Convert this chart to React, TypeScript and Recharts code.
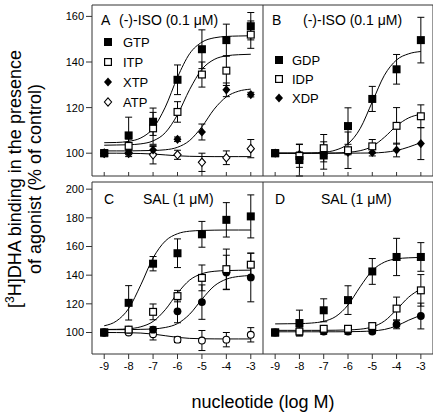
import React from 'react';
import { ComposedChart, Scatter, Line, XAxis, YAxis, ErrorBar, ReferenceArea } from 'recharts';

const FONT = '"Liberation Sans", Arial, Helvetica, sans-serif';

// ---------- shared ----------
const logDose = [-9, -8, -7, -6, -5, -4, -3];
const fitX = [-9, -8.5, -8, -7.5, -7, -6.5, -6, -5.5, -5, -4.5, -4, -3.5, -3];
const xTicks = [-9, -8, -7, -6, -5, -4, -3];
const yTicksTop = [100, 120, 140, 160];
const yTicksBottom = [100, 120, 140, 160, 180, 200];

// ---------- Panel A : (-)-ISO 0.1 uM, triphosphates ----------
const aGTP = [100, 107.8, 113.8, 132.2, 145.6, 149.6, 155.7];
const aGTPErr = [0, 8, 6, 6.5, 8.5, 7, 6];
const aITP = [100, 103.2, 110.9, 118.1, 134.5, 136.2, 152];
const aITPErr = [0, 3, 7, 4.5, 5.5, 6.5, 6];
const aXTP = [100, 100.3, 101.4, 106.1, 109.3, 127.8, 125.7];
const aXTPErr = [0, 1, 1.5, 1, 3.5, 3, 1];
const aATP = [100, 100, 99.3, 99.3, 96, 98, 102];
const aATPErr = [0, 1.5, 4, 2, 4, 3, 4];
const aGTPFit = [104.6, 104.7, 105.2, 106.7, 110.9, 120.2, 133.3, 143.7, 148.7, 150.6, 151.2, 151.4, 151.5];
const aITPFit = [103.5, 103.6, 103.7, 104.1, 105.4, 109.0, 116.9, 128.0, 136.8, 141.1, 142.7, 143.2, 143.4];
const aXTPFit = [101.0, 101.0, 101.0, 101.1, 101.2, 101.5, 102.6, 105.6, 111.6, 119.3, 124.7, 127.2, 128.1];
const aATPFit = [100.0, 100.0, 99.95, 99.86, 99.64, 99.25, 98.86, 98.64, 98.55, 98.5, 98.5, 98.5, 98.5];

// ---------- Panel B : (-)-ISO 0.1 uM, diphosphates ----------
const bGDP = [100, 97, 99, 111.9, 123.8, 136.8, 149.6];
const bGDPErr = [0, 7, 6, 8, 5.5, 6.5, 10];
const bIDP = [100, 98.8, 102.2, 101.3, 103, 112, 116.2];
const bIDPErr = [0, 5, 6, 8, 3, 8, 5];
const bXDP = [100, 99.5, 99.5, 100.3, 100.3, 101.4, 104.2];
const bXDPErr = [0, 1, 1, 1, 1.5, 3, 7];
const bGDPFit = [100.0, 100.0, 100.0, 100.1, 100.4, 101.4, 104.1, 110.8, 122.5, 134.2, 140.9, 143.6, 144.6];
const bIDPFit = [100.0, 100.0, 100.0, 100.0, 100.0, 100.1, 100.4, 101.1, 103.0, 107.0, 112.0, 115.5, 117.1];
const bXDPFit = [100.0, 100.0, 100.0, 100.0, 100.0, 100.0, 100.0, 100.05, 100.1, 100.4, 101.2, 102.7, 104.7];

// ---------- Panel C : SAL 1 uM, triphosphates ----------
const cGTP = [100, 120.7, 148, 155.3, 168.5, 178.6, 181];
const cGTPErr = [0, 12, 5, 10, 9, 12, 15];
const cITP = [100, 102, 114.4, 125.4, 138.1, 144.2, 147.3];
const cITPErr = [0, 1.5, 5.5, 4, 9, 14, 8];
const cXTP = [100, 102, 102, 114.8, 121.2, 141.9, 138.4];
const cXTPErr = [0, 1, 2, 8, 12, 12, 17];
const cATP = [100, 100, 98.8, 95, 94.4, 95, 98.4];
const cATPErr = [0, 1, 4, 2, 7, 5, 5];
const cGTPFit = [104.7, 108.0, 116.7, 133.3, 152.0, 163.8, 168.9, 170.7, 171.2, 171.4, 171.5, 171.5, 171.5];
const cITPFit = [102.1, 102.2, 102.6, 104.0, 107.7, 115.9, 127.4, 136.6, 141.0, 142.7, 143.2, 143.4, 143.5];
const cXTPFit = [102.0, 102.0, 102.0, 102.2, 102.5, 103.5, 106.2, 112.8, 123.2, 132.4, 137.2, 139.1, 139.7];
const cATPFit = [100.0, 99.96, 99.86, 99.6, 98.9, 97.75, 96.6, 95.9, 95.64, 95.55, 95.5, 95.5, 95.5];

// ---------- Panel D : SAL 1 uM, diphosphates ----------
const dGDP = [100, 106.6, 115.5, 122.6, 142.6, 152.7, 152.7];
const dGDPErr = [0, 9, 8, 10, 9, 13, 10];
const dIDP = [100, 100.7, 102.6, 102.6, 104.5, 116.7, 129.4];
const dIDPErr = [0, 3, 2, 2, 2, 8, 11];
const dXDP = [100, 100.7, 100.7, 100.7, 100.7, 105.6, 111.5];
const dXDPErr = [0, 2, 2, 2, 1.5, 3, 9];
const dGDPFit = [106.0, 106.1, 106.2, 106.6, 107.8, 111.2, 119.2, 131.9, 143.2, 149.1, 151.4, 152.1, 152.4];
const dIDPFit = [101.5, 101.5, 101.5, 101.5, 101.5, 101.6, 101.8, 102.3, 103.9, 108.0, 115.9, 124.7, 130.4];
const dXDPFit = [100.5, 100.5, 100.5, 100.5, 100.5, 100.5, 100.56, 100.7, 101.1, 102.1, 104.6, 108.6, 112.1];

// ---------- helpers ----------
type Kind = 'sqFill' | 'sqOpen' | 'diaFill' | 'diaOpen' | 'cirFill' | 'cirOpen';

function Marker({ kind, cx, cy }: { kind: Kind; cx: number; cy: number }) {
  if (cx == null || cy == null || isNaN(cx) || isNaN(cy)) return <g />;
  switch (kind) {
    case 'sqFill':
      return <rect x={cx - 4} y={cy - 4} width={8} height={8} fill="#000" />;
    case 'sqOpen':
      return <rect x={cx - 3.4} y={cy - 3.4} width={6.8} height={6.8} fill="#fff" stroke="#000" strokeWidth={1.2} />;
    case 'diaFill':
      return <path d={`M${cx},${cy - 4.6}L${cx + 4},${cy}L${cx},${cy + 4.6}L${cx - 4},${cy}Z`} fill="#000" />;
    case 'diaOpen':
      return (
        <path
          d={`M${cx},${cy - 4.2}L${cx + 3.6},${cy}L${cx},${cy + 4.2}L${cx - 3.6},${cy}Z`}
          fill="#fff"
          stroke="#000"
          strokeWidth={1.1}
        />
      );
    case 'cirFill':
      return <circle cx={cx} cy={cy} r={3.9} fill="#000" />;
    case 'cirOpen':
      return <circle cx={cx} cy={cy} r={3.4} fill="#fff" stroke="#000" strokeWidth={1.1} />;
  }
  return <g />;
}

const pts = (vals: number[], errs: number[]) => logDose.map((x, i) => ({ x, y: vals[i], e: errs[i] }));
const curve = (vals: number[]) => fitX.map((x, i) => ({ x, y: vals[i] }));

type Series = { kind: Kind; vals: number[]; errs: number[]; fit: number[] };

const seriesA: Series[] = [
  { kind: 'diaOpen', vals: aATP, errs: aATPErr, fit: aATPFit },
  { kind: 'diaFill', vals: aXTP, errs: aXTPErr, fit: aXTPFit },
  { kind: 'sqOpen', vals: aITP, errs: aITPErr, fit: aITPFit },
  { kind: 'sqFill', vals: aGTP, errs: aGTPErr, fit: aGTPFit },
];
const seriesB: Series[] = [
  { kind: 'diaFill', vals: bXDP, errs: bXDPErr, fit: bXDPFit },
  { kind: 'sqOpen', vals: bIDP, errs: bIDPErr, fit: bIDPFit },
  { kind: 'sqFill', vals: bGDP, errs: bGDPErr, fit: bGDPFit },
];
const seriesC: Series[] = [
  { kind: 'cirOpen', vals: cATP, errs: cATPErr, fit: cATPFit },
  { kind: 'cirFill', vals: cXTP, errs: cXTPErr, fit: cXTPFit },
  { kind: 'sqOpen', vals: cITP, errs: cITPErr, fit: cITPFit },
  { kind: 'sqFill', vals: cGTP, errs: cGTPErr, fit: cGTPFit },
];
const seriesD: Series[] = [
  { kind: 'cirFill', vals: dXDP, errs: dXDPErr, fit: dXDPFit },
  { kind: 'sqOpen', vals: dIDP, errs: dIDPErr, fit: dIDPFit },
  { kind: 'sqFill', vals: dGDP, errs: dGDPErr, fit: dGDPFit },
];

const FRAME = '#333';

function Panel(props: {
  left: number;
  top: number;
  width: number;
  height: number;
  yDomain: [number, number];
  yTicks: number[] | null;
  xLabels: boolean;
  series: Series[];
}) {
  const { left, top, width, height, yDomain, yTicks, xLabels, series } = props;
  return (
    <div style={{ position: 'absolute', left, top }}>
      <ComposedChart width={width} height={height} margin={{ top: 5, right: 0, bottom: 0, left: 0 }}>
        <XAxis
          type="number"
          dataKey="x"
          domain={[-9.5, -2.5]}
          ticks={xTicks}
          interval={0}
          allowDataOverflow
          axisLine={false}
          tickLine={{ stroke: FRAME }}
          tickSize={xLabels ? 5 : -4}
          tickMargin={3}
          height={xLabels ? 30 : 14}
          tickFormatter={(v: number) => (xLabels ? String(v) : '')}
          tick={{ fontSize: 11, fill: '#000', fontFamily: FONT }}
        />
        <YAxis
          type="number"
          domain={yDomain}
          ticks={yTicks ?? undefined}
          interval={0}
          allowDataOverflow
          hide={!yTicks}
          width={yTicks ? 92 : 0}
          axisLine={false}
          tickLine={{ stroke: FRAME }}
          tickSize={6}
          tickMargin={2}
          tick={{ fontSize: 11, fill: '#000', fontFamily: FONT }}
        />
        <ReferenceArea
          x1={-9.5}
          x2={-2.5}
          y1={yDomain[0]}
          y2={yDomain[1]}
          fill="none"
          fillOpacity={0}
          stroke={FRAME}
          strokeWidth={1}
          ifOverflow="visible"
        />
        {series.map((s, i) => (
          <Line
            key={'l' + i}
            data={curve(s.fit)}
            dataKey="y"
            type="monotone"
            dot={false}
            activeDot={false}
            stroke="#000"
            strokeWidth={1}
            isAnimationActive={false}
          />
        ))}
        {series.map((s, i) => (
          <Scatter
            key={'s' + i}
            data={pts(s.vals, s.errs)}
            dataKey="y"
            isAnimationActive={false}
            shape={(p: any) => <Marker kind={s.kind} cx={p.cx} cy={p.cy} />}
          >
            <ErrorBar dataKey="e" direction="y" width={3.5} stroke="#000" strokeWidth={1} />
          </Scatter>
        ))}
      </ComposedChart>
    </div>
  );
}

const legendA: { kind: Kind; label: string }[] = [
  { kind: 'sqFill', label: 'GTP' },
  { kind: 'sqOpen', label: 'ITP' },
  { kind: 'diaFill', label: 'XTP' },
  { kind: 'diaOpen', label: 'ATP' },
];
const legendB: { kind: Kind; label: string }[] = [
  { kind: 'sqFill', label: 'GDP' },
  { kind: 'sqOpen', label: 'IDP' },
  { kind: 'diaFill', label: 'XDP' },
];

export default function App() {
  const t = { fontFamily: FONT, fill: '#000' } as const;
  return (
    <div style={{ position: 'absolute', left: 0, top: 0, width: 440, height: 417, background: '#fff' }}>
      <Panel left={0} top={0} width={263} height={190} yDomain={[90, 165]} yTicks={yTicksTop} xLabels={false} series={seriesA} />
      <Panel left={263} top={0} width={170} height={190} yDomain={[90, 165]} yTicks={null} xLabels={false} series={seriesB} />
      <Panel left={0} top={177} width={263} height={207} yDomain={[85, 205]} yTicks={yTicksBottom} xLabels={true} series={seriesC} />
      <Panel left={263} top={177} width={170} height={207} yDomain={[85, 205]} yTicks={null} xLabels={true} series={seriesD} />
      <svg
        width={440}
        height={417}
        style={{ position: 'absolute', left: 0, top: 0, pointerEvents: 'none' }}
      >
        {/* panel titles */}
        <text x={101} y={25} fontSize={14} {...t}>A</text>
        <text x={119} y={25} fontSize={14} {...t}>(-)-ISO (0.1 μM)</text>
        <text x={272} y={25} fontSize={14} {...t}>B</text>
        <text x={303} y={25} fontSize={14} {...t}>(-)-ISO (0.1 μM)</text>
        <text x={104} y={204} fontSize={14} {...t}>C</text>
        <text x={143} y={204} fontSize={14} {...t}>SAL (1 μM)</text>
        <text x={275} y={204} fontSize={14} {...t}>D</text>
        <text x={321} y={204} fontSize={14} {...t}>SAL (1 μM)</text>
        {/* legends */}
        {legendA.map((l, i) => (
          <g key={'la' + i}>
            <Marker kind={l.kind} cx={108} cy={42 + i * 20} />
            <text x={123} y={46.5 + i * 20} fontSize={13} {...t}>{l.label}</text>
          </g>
        ))}
        {legendB.map((l, i) => (
          <g key={'lb' + i}>
            <Marker kind={l.kind} cx={279} cy={60 + i * 19} />
            <text x={292} y={64.5 + i * 19} fontSize={13} {...t}>{l.label}</text>
          </g>
        ))}
        {/* axis titles */}
        <text transform="translate(21,179) rotate(-90)" textAnchor="middle" fontSize={18} {...t}>
          [<tspan fontSize={12} dy={-7}>3</tspan>
          <tspan dy={7}>H]DHA binding in the presence</tspan>
        </text>
        <text transform="translate(41,179) rotate(-90)" textAnchor="middle" fontSize={18} {...t}>
          of agonist (% of control)
        </text>
        <text x={263} y={408} textAnchor="middle" fontSize={18} {...t}>nucleotide (log M)</text>
      </svg>
    </div>
  );
}
